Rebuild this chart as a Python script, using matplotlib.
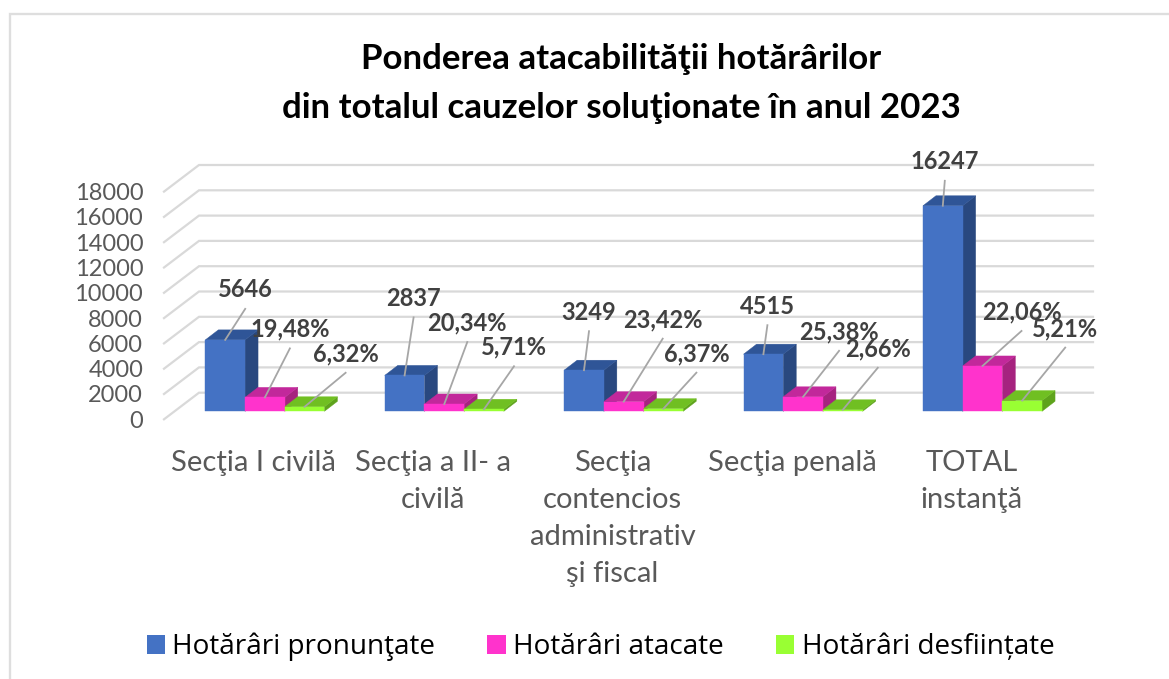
import matplotlib
matplotlib.use("Agg")
import matplotlib.pyplot as plt
from matplotlib.lines import Line2D
from matplotlib.patches import Polygon, Rectangle

# ---- data ----
categories = ["Secţia I civilă", "Secţia a II- a\ncivilă",
              "Secţia\ncontencios\nadministrativ\nşi fiscal", "Secţia penală", "TOTAL\ninstanţă"]
series_names = ["Hotărâri pronunţate", "Hotărâri atacate", "Hotărâri desființate"]
pronuntate = [5646, 2837, 3249, 4515, 16247]
atacate = [1100, 577, 761, 1146, 3584]
desfiintate = [357, 162, 207, 120, 846]
atacate_labels = ["19,48%", "20,34%", "23,42%", "25,38%", "22,06%"]
desfiintate_labels = ["6,32%", "5,71%", "6,37%", "2,66%", "5,21%"]
pronuntate_labels = ["5646", "2837", "3249", "4515", "16247"]
y_ticks = list(range(0, 18001, 2000))

# ---- styling ----
W, H = 1169, 679
FONT = "Lato"
front = ["#4472C4", "#FF33CC", "#99FF33"]
top = ["#2F5597", "#C2289B", "#70BF22"]
side = ["#29487F", "#A6237F", "#5EA31C"]
grid = "#D9D9D9"
txt = "#595959"
lab = "#404040"
# label centre offsets from each bar's front-top centre, in pixels (right, up)
off_p = [(20, 50), (9, 77), (5, 58), (4, 48), (2, 44)]
off_a = [(25, 68), (23, 81), (39, 82), (36, 65), (39, 54)]
off_d = [(41, 53), (30, 62), (33, 55), (35, 61), (43, 72)]

fig = plt.figure(figsize=(W / 100, H / 100), dpi=100)
fig.patch.set_facecolor("white")
fig.add_artist(Line2D([9.5 / W, 9.5 / W, 1.0], [0, 1 - 13.5 / H, 1 - 13.5 / H], transform=fig.transFigure,
                      color="#DEDEDE", lw=1.7, solid_joinstyle="miter"))

ax_l, ax_r, ax_b, ax_t = 164, 1061, 419.3, 191.6
ax = fig.add_axes([ax_l / W, (H - ax_b) / H, (ax_r - ax_l) / W, (ax_b - ax_t) / H])
ax.set_xlim(-0.5, 4.5)
ax.set_ylim(0, 18000)
ax.patch.set_alpha(0)
for s in ax.spines.values():
    s.set_visible(False)

ux = 5 / (ax_r - ax_l)      # data x per pixel
uy = 18000 / (ax_b - ax_t)  # data y per pixel
WALL = (35, 26.6)
WALL_RIGHT = 32
BAR_FRONT = (11.2, 8)
BAR_D = (13, 10)
BW = 39.7 * ux

# walls
for v in y_ticks:
    ax.plot([-0.5, -0.5 + WALL[0] * ux, 4.5 + WALL_RIGHT * ux],
            [v, v + WALL[1] * uy, v + WALL[1] * uy],
            color=grid, lw=1.6, clip_on=False, zorder=1, solid_joinstyle="miter")

# bars
all_vals = [pronuntate, atacate, desfiintate]
all_labels = [pronuntate_labels, atacate_labels, desfiintate_labels]
all_off = [off_p, off_a, off_d]
for i in range(len(categories)):
    for j, vals in enumerate(all_vals):
        v = vals[i]
        x0 = i + (j - 1.5) * BW + BAR_FRONT[0] * ux
        x1 = x0 + BW
        y0 = BAR_FRONT[1] * uy
        y1 = y0 + v
        dx, dy = BAR_D[0] * ux, BAR_D[1] * uy
        z = 3 + j * 0.1 + i
        ax.add_patch(Polygon([(x1, y0), (x1 + dx, y0 + dy), (x1 + dx, y1 + dy), (x1, y1)],
                             fc=side[j], ec=side[j], lw=0.3, clip_on=False, zorder=z))
        ax.add_patch(Polygon([(x0, y1), (x1, y1), (x1 + dx, y1 + dy), (x0 + dx, y1 + dy)],
                             fc=top[j], ec=top[j], lw=0.3, clip_on=False, zorder=z))
        ax.add_patch(Rectangle((x0, y0), x1 - x0, v, fc=front[j], ec=front[j], lw=0.3,
                               clip_on=False, zorder=z + 0.01))

# data labels with leaders
for i in range(len(categories)):
    for j, vals in enumerate(all_vals):
        xc = i + (j - 1) * BW + BAR_FRONT[0] * ux
        yt = BAR_FRONT[1] * uy + vals[i]
        ox, oy = all_off[j][i]
        ax.plot([xc, xc + ox * ux], [yt, yt + (oy - 19) * uy], color="#A6A6A6", lw=1.3,
                clip_on=False, zorder=20)
        ax.text(xc + ox * ux, yt + oy * uy, all_labels[j][i], ha="center", va="center",
                family=FONT, fontweight="bold", fontsize=17, color=lab, clip_on=False, zorder=21)

# axes
ax.set_yticks(y_ticks)
ax.set_yticklabels([str(v) for v in y_ticks], family=FONT, fontsize=17, color=txt)
ax.tick_params(axis="y", length=0, pad=15)
ax.set_xticks(range(len(categories)))
ax.set_xticklabels(categories, family=FONT, fontsize=21, color=txt, linespacing=1.53)
ax.tick_params(axis="x", length=0, pad=22)

# title
fig.text(621.5 / W, 1 - 83.5 / H, "Ponderea atacabilităţii hotărârilor\ndin totalul cauzelor soluţionate în anul 2023",
         ha="center", va="center", family=FONT, fontweight="bold", fontsize=25.1, color="black", linespacing=1.62)

# legend
handles = [Rectangle((0, 0), 1, 1, fc=c, ec="none") for c in front]
fig.legend(handles, series_names, ncol=3, loc="center",
           bbox_to_anchor=(600.5 / W, 1 - 647 / H),
           frameon=False, prop={"family": "Open Sans", "size": 20.1}, handlelength=0.65, handleheight=0.65,
           handletextpad=0.27, columnspacing=1.87, labelcolor="black")

fig.savefig("out.png", dpi=100)
